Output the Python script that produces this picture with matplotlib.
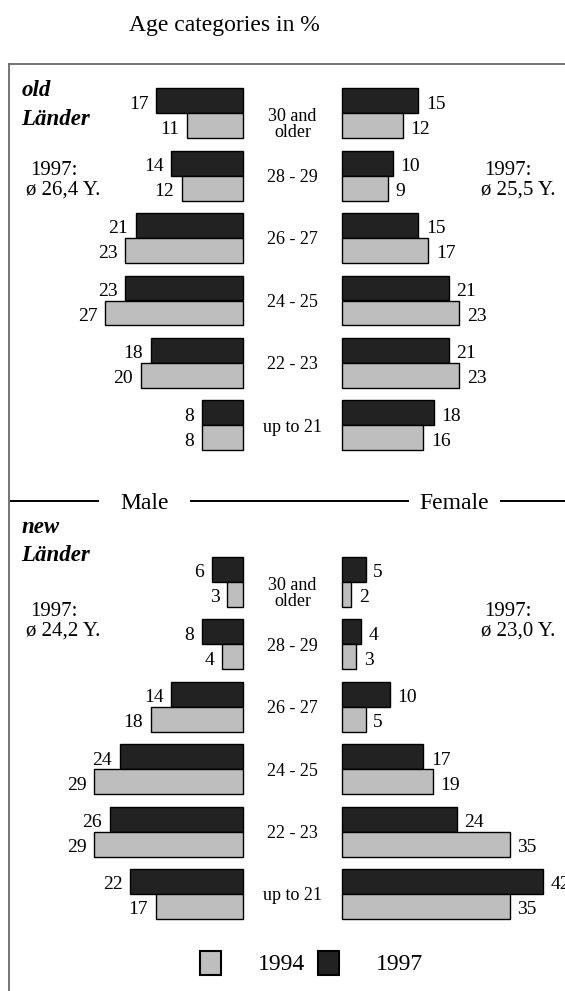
import matplotlib
matplotlib.use('Agg')
import matplotlib.pyplot as plt
from matplotlib.patches import Patch
from matplotlib.lines import Line2D
from matplotlib.transforms import blended_transform_factory
import numpy as np

plt.rcParams['font.family'] = ['Liberation Serif', 'DejaVu Serif']

# ---------------- data ----------------
categories = ['30 and\nolder', '28 - 29', '26 - 27', '24 - 25', '22 - 23', 'up to 21']
old_male_1994 = [11, 12, 23, 27, 20, 8]
old_male_1997 = [17, 14, 21, 23, 18, 8]
old_female_1994 = [12, 9, 17, 23, 23, 16]
old_female_1997 = [15, 10, 15, 21, 21, 18]
new_male_1994 = [3, 4, 18, 29, 29, 17]
new_male_1997 = [6, 8, 14, 24, 26, 22]
new_female_1994 = [2, 3, 5, 19, 35, 35]
new_female_1997 = [5, 4, 10, 17, 24, 42]
old_avg = ['ø 26,4 Y.', 'ø 25,5 Y.']
new_avg = ['ø 24,2 Y.', 'ø 23,0 Y.']
years = ['1994', '1997']

# ---------------- style ----------------
C94 = '#bebebe'
C97 = '#222222'
W, H = 565, 991
ROW = 62.4
fig = plt.figure(figsize=(W / 100, H / 100), dpi=100)


def rect(x0, x1, ytop, ybot):
    return [x0 / W, 1 - ybot / H, (x1 - x0) / W, (ybot - ytop) / H]


def ftext(x, y, s, size, **kw):
    # y given as visual centre in pixels
    y = y + 0.11 * size * 100 / 72
    fig.text(x / W, 1 - y / H, s, fontsize=size, va='center', **kw)


def panel(yb0, m94, m97, f94, f97, scale_m, scale_f):
    ytop = yb0 - 0.8 * ROW
    ybot = yb0 + 5.8 * ROW
    axm = fig.add_axes(rect(0, 242.7, ytop, ybot))
    axf = fig.add_axes(rect(341.7, W, ytop, ybot))
    y = np.arange(len(categories))
    for ax, v94, v97, sgn in ((axm, m94, m97, -1), (axf, f94, f97, 1)):
        for yy, vals, col in ((y - 0.2, v97, C97), (y + 0.2, v94, C94)):
            bars = ax.barh(yy, vals, height=0.4, color=col, edgecolor='black',
                           linewidth=1.0)
            for b in bars:
                b.set_clip_on(False)
            for yc, v in zip(yy, vals):
                ax.annotate(str(v), xy=(v, yc), xytext=(sgn * 5.5, -2.4),
                            textcoords='offset points', fontsize=14,
                            ha='left' if sgn > 0 else 'right', va='center',
                            annotation_clip=False)
        ax.set_ylim(5.8, -0.8)
        ax.axis('off')
    axm.set_xlim(242.7 / scale_m, 0)
    axf.set_xlim(0, (W - 341.7) / scale_f)
    tr = blended_transform_factory(fig.transFigure, axm.transData)
    for i, c in enumerate(categories):
        off = 0.15 if '\n' in c else 0.0
        axm.text(292.5 / W, i + off + 0.03, c, transform=tr, fontsize=13,
                 ha='center', va='center', linespacing=0.95)


panel(113.3, old_male_1994, old_male_1997, old_female_1994, old_female_1997, 5.1, 5.1)
panel(582.0, new_male_1994, new_male_1997, new_female_1994, new_female_1997, 5.12, 4.8)

# ---------------- texts ----------------
ftext(224, 23, 'Age categories in %', 17, ha='center')

ftext(21.5, 88, 'old', 16.5, fontweight='bold', fontstyle='italic')
ftext(21.5, 117, 'Länder', 16.5, fontweight='bold', fontstyle='italic')
ftext(21.5, 525, 'new', 16.5, fontweight='bold', fontstyle='italic')
ftext(21.5, 553, 'Länder', 16.5, fontweight='bold', fontstyle='italic')

for yy, avg in ((168, old_avg), (609, new_avg)):
    ftext(54, yy, '1997:', 15, ha='center')
    ftext(63, yy + 20, avg[0], 15, ha='center')
    ftext(508, yy, '1997:', 15, ha='center')
    ftext(518, yy + 20, avg[1], 15, ha='center')

# divider with Male / Female
ydiv = 1 - 501 / H
for x0, x1 in ((10.5, 98), (191, 408), (501, 565)):
    fig.add_artist(Line2D([x0 / W, x1 / W], [ydiv, ydiv], color='black', lw=1.4))
ftext(145, 501, 'Male', 17, ha='center')
ftext(454, 501, 'Female', 17, ha='center')

# frame
fx = 9 / W
fy = 1 - 64 / H
fig.add_artist(Line2D([fx, fx], [0, fy], color='#6a6a6a', lw=1.3))
fig.add_artist(Line2D([fx, 1], [fy, fy], color='#6a6a6a', lw=1.3))

# legend
handles = [Patch(facecolor=C94, edgecolor='black', linewidth=1.5),
           Patch(facecolor=C97, edgecolor='black', linewidth=1.5)]
fig.legend(handles=handles, labels=years, loc='center',
           bbox_to_anchor=(311.7 / W, 1 - 963 / H), ncol=2, frameon=False,
           fontsize=17, handlelength=0.89, handleheight=1.19,
           handletextpad=1.57, columnspacing=0.55, borderpad=0,
           borderaxespad=0)

fig.savefig('out.png', dpi=100)
